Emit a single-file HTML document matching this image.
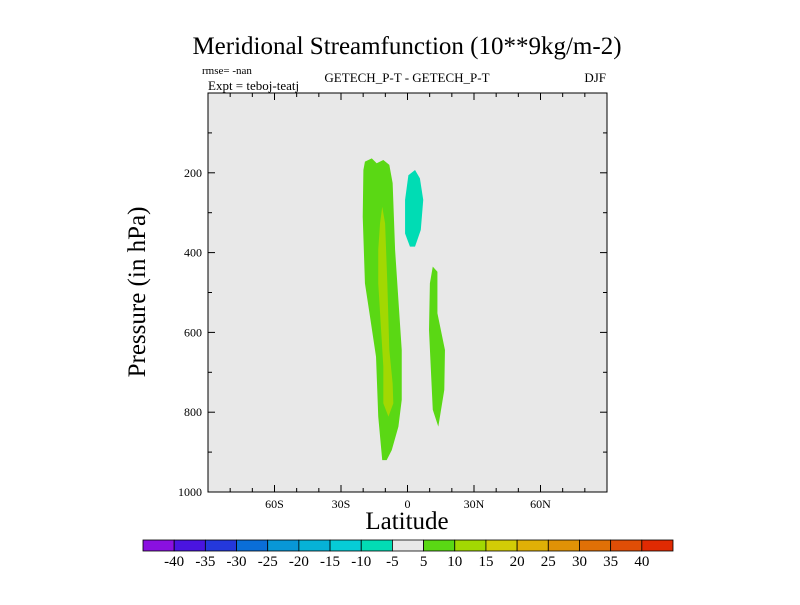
<!DOCTYPE html>
<html><head><meta charset="utf-8"><style>
body{margin:0;background:#fff;}
svg text{font-family:"Liberation Serif",serif;}
</style></head><body>
<svg id="c" width="800" height="600" xmlns="http://www.w3.org/2000/svg">
<text x="407" y="54" font-size="25" text-anchor="middle">Meridional Streamfunction (10**9kg/m-2)</text>
<text x="202" y="74" font-size="11">rmse= -nan</text>
<text x="208" y="90" font-size="13">Expt = teboj-teatj</text>
<text x="407" y="82" font-size="13" text-anchor="middle">GETECH_P-T - GETECH_P-T</text>
<text x="606" y="82" font-size="13" text-anchor="end">DJF</text>
<rect x="208" y="93" width="399" height="399" fill="#e8e8e8"/>
<g id="shapes"></g>
<rect x="208" y="93" width="399" height="399" fill="none" stroke="#000" stroke-width="1"/>
<g id="ticks"></g>
<text x="407" y="529" font-size="25" text-anchor="middle">Latitude</text>
<text transform="translate(145,292) rotate(-90)" font-size="25" text-anchor="middle">Pressure (in hPa)</text>
<g id="cbar"></g>
</svg>
<script>
const latTicks=[-60,-30,0,30,60];
const latLabels=["60S","30S","0","30N","60N"];
const presTicks=[200,400,600,800,1000];
const cbarLevels=[-40,-35,-30,-25,-20,-15,-10,-5,5,10,15,20,25,30,35,40];
const cbarColors=["#8a10e0","#4a14e0","#2438dc","#0a6ed8","#0897d6","#06b2d6","#06ccd6","#02dcb4","#e8e8e8","#5ad814","#a2d802","#d2cc06","#e0b006","#e09206","#e07006","#e04e06","#e02a02"];
const shapeColors=["#5ad814","#a2d802","#00dcb4","#5ad814"];
const shapeLat=[
 [-19.2,-16.1,-13.9,-10.9,-8.2,-6.7,-5.6,-4.1,-2.6,-2.6,-4.1,-7.1,-9.4,-11.4,-13.2,-14.2,-16.9,-19.2,-20.2,-19.9],
 [-11.4,-10.1,-9.1,-8.2,-6.7,-6.4,-8.6,-10.9,-10.9,-13.2,-13.2,-12.4],
 [0.4,3.4,5.6,7.1,6.0,3.4,1.1,-1.1,-1.1],
 [11.4,13.5,13.5,16.9,16.6,13.9,11.4,9.7,10.1]];
const shapePres=[
 [172,164,176,168,180,226,393,519,644,769,836,895,920,920,811,661,561,477,310,193],
 [285,327,477,644,728,778,811,778,686,477,393,327],
 [206,193,214,268,343,385,385,352,268],
 [435,448,552,644,744,836,794,594,477]];
const X0=208,W=399,Y0=93,H=399;
const xs=l=>X0+(l+90)/180*W, ys=p=>Y0+p/1000*H;
const NS="http://www.w3.org/2000/svg";
function mk(t,a,p){const e=document.createElementNS(NS,t);for(const k in a)e.setAttribute(k,a[k]);p.appendChild(e);return e;}
const sg=document.getElementById('shapes');
shapeLat.forEach((la,i)=>{
 const pts=la.map((l,j)=>xs(l)+","+ys(shapePres[i][j])).join(" ");
 const e=mk('polygon',{points:pts,fill:shapeColors[i]},sg);
 
 
});
const tg=document.getElementById('ticks');
for(let l=-80;l<=80;l+=10){const x=xs(l),L=(l%30==0)?7:4;
 mk('line',{x1:x,x2:x,y1:Y0+H,y2:Y0+H-L,stroke:"#000"},tg);
 mk('line',{x1:x,x2:x,y1:Y0,y2:Y0+L,stroke:"#000"},tg);}
for(let p=100;p<1000;p+=100){const y=ys(p),L=(p%200==0)?7:4;
 mk('line',{x1:X0,x2:X0+L,y1:y,y2:y,stroke:"#000"},tg);
 mk('line',{x1:X0+W,x2:X0+W-L,y1:y,y2:y,stroke:"#000"},tg);}
latTicks.forEach((l,i)=>{const t=mk('text',{x:xs(l),y:508,'font-size':12,'text-anchor':'middle'},tg);t.textContent=latLabels[i];
 });
presTicks.forEach(p=>{const t=mk('text',{x:202,y:ys(p)+4,'font-size':12,'text-anchor':'end'},tg);t.textContent=p;
 });
const cg=document.getElementById('cbar');
const cx0=143,cw=(673-143)/cbarColors.length;
cbarColors.forEach((c,i)=>{const r=mk('rect',{x:cx0+i*cw,y:540,width:cw,height:11,fill:c,stroke:"#000",'stroke-width':0.8},cg);
 });
cbarLevels.forEach((v,i)=>{const t=mk('text',{x:cx0+(i+1)*cw,y:566,'font-size':15,'text-anchor':'middle'},cg);t.textContent=v;
 });
</script>
</body></html>
